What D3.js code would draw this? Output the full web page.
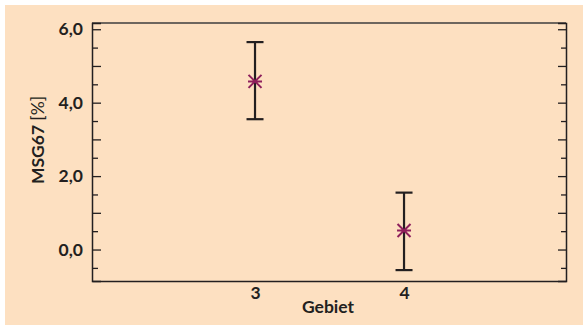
<!DOCTYPE html>
<html>
<head>
<meta charset="utf-8">
<script src="https://cdn.jsdelivr.net/npm/d3@7"></script>
<style>
  html, body { margin: 0; padding: 0; background: #fff; overflow: hidden; }
  svg { display: block; }
  svg text { font-family: Lato, "Open Sans", sans-serif; fill: #231f20; }
</style>
</head>
<body>
<div id="chart"></div>
<script>
// Gebiet vs MSG67 [%] : Mittelwert mit Fehlerbalken
var gebiete = [3, 4];
var mittel = [4.58, 0.52];
var oben = [5.65, 1.55];
var unten = [3.55, -0.56];
var yMajor = [0, 2, 4, 6];
var yTicksAll = [-0.5, 0, 0.5, 1, 1.5, 2, 2.5, 3, 3.5, 4, 4.5, 5, 5.5, 6];

var W = 583, H = 326;
var margin = ({top: 23, right: 17, bottom: 45, left: 92});

var data = gebiete.map((g, i) => ({g: g, m: mittel[i], hi: oben[i], lo: unten[i]}));

var x = d3.scaleLinear()
    .domain([1.906, 5.087])
    .range([margin.left, W - margin.right]);

var y = d3.scaleLinear()
    .domain([-0.857, 6.17])
    .range([H - margin.bottom, margin.top]);

var fmt = d => d3.format(".1f")(d).replace(".", ",");

var svg = d3.select("#chart").append("svg")
    .attr("width", W)
    .attr("height", H);

// hintergrund
svg.append("rect")
    .attr("x", 5).attr("y", 5)
    .attr("width", W - 5).attr("height", H - 6)
    .attr("fill", "#fde0c1");

// rahmen oben
svg.append("line")
    .attr("x1", margin.left).attr("x2", W - margin.right)
    .attr("y1", margin.top).attr("y2", margin.top)
    .attr("stroke", "#6e665e").attr("stroke-width", 2);

// linke achse: kleine ticks
svg.append("g")
    .attr("transform", `translate(${margin.left},0)`)
    .call(d3.axisLeft(y).tickValues(yTicksAll.filter(d => d % 1 !== 0)).tickSize(-6).tickFormat(""))
    .call(g => g.selectAll(".domain").remove())
    .call(g => g.selectAll(".tick line").attr("stroke", "#231f20").attr("stroke-width", 1.3));

// linke achse: grosse ticks + beschriftung
svg.append("g")
    .attr("transform", `translate(${margin.left},0)`)
    .call(d3.axisLeft(y).tickValues(yTicksAll.filter(d => d % 1 === 0)).tickSize(-9).tickPadding(9)
        .tickFormat(d => yMajor.includes(d) ? fmt(d) : ""))
    .call(g => g.select(".domain").attr("stroke", "#231f20").attr("stroke-width", 1.5))
    .call(g => g.selectAll(".tick line").attr("stroke", "#231f20").attr("stroke-width", 1.3))
    .call(g => g.selectAll(".tick text").attr("font-size", 17.5).attr("font-weight", 700).attr("fill", "#231f20"));

// rechte achse
svg.append("g")
    .attr("transform", `translate(${W - margin.right},0)`)
    .call(d3.axisRight(y).tickValues(yTicksAll.filter(d => d % 1 !== 0)).tickSize(-5).tickFormat(""))
    .call(g => g.selectAll(".domain").remove())
    .call(g => g.selectAll(".tick line").attr("stroke", "#231f20").attr("stroke-width", 1.3));
svg.append("g")
    .attr("transform", `translate(${W - margin.right},0)`)
    .call(d3.axisRight(y).tickValues(yTicksAll.filter(d => d % 1 === 0)).tickSize(-8).tickFormat(""))
    .call(g => g.select(".domain").attr("stroke", "#231f20").attr("stroke-width", 1.5))
    .call(g => g.selectAll(".tick line").attr("stroke", "#231f20").attr("stroke-width", 1.3));

// x-achse
svg.append("g")
    .attr("transform", `translate(0,${H - margin.bottom})`)
    .call(d3.axisBottom(x).tickValues(gebiete).tickSize(0).tickPadding(6).tickFormat(d3.format("d")))
    .call(g => g.select(".domain").attr("stroke", "#231f20").attr("stroke-width", 1.5))
    .call(g => g.selectAll(".tick text").attr("font-size", 17.5).attr("font-weight", 700).attr("fill", "#231f20"));

// achsentitel
svg.append("text")
    .attr("x", (margin.left + W - margin.right) / 2 - 1)
    .attr("y", 313)
    .attr("text-anchor", "middle")
    .attr("font-size", 17.5)
    .attr("font-weight", 700)
    .text("Gebiet");

var yl = svg.append("text")
    .attr("transform", "translate(44,140) rotate(-90)")
    .attr("text-anchor", "middle")
    .attr("font-size", 17.5);
yl.append("tspan").attr("font-weight", 700).text("MSG67 ");
yl.append("tspan").attr("font-weight", 400).text("[%]");

// fehlerbalken
var bars = svg.append("g")
    .selectAll("g")
    .data(data)
    .join("g")
    .attr("stroke", "#231f20")
    .attr("stroke-width", 2.2);

bars.append("line")
    .attr("x1", d => x(d.g)).attr("x2", d => x(d.g))
    .attr("y1", d => y(d.hi)).attr("y2", d => y(d.lo));
bars.append("line")
    .attr("x1", d => x(d.g) - 8.5).attr("x2", d => x(d.g) + 8.5)
    .attr("y1", d => y(d.hi)).attr("y2", d => y(d.hi));
bars.append("line")
    .attr("x1", d => x(d.g) - 8.5).attr("x2", d => x(d.g) + 8.5)
    .attr("y1", d => y(d.lo)).attr("y2", d => y(d.lo));

// sterne (mittelwert)
var star = "M-7,0L7,0M-6.5,-6.5L6.5,6.5M-6.5,6.5L6.5,-6.5";
svg.append("g")
    .selectAll("path")
    .data(data)
    .join("path")
    .attr("transform", d => `translate(${x(d.g)},${y(d.m)})`)
    .attr("d", star)
    .attr("fill", "none")
    .attr("stroke", "#8e1f5c")
    .attr("stroke-width", 2);
</script>
</body>
</html>
